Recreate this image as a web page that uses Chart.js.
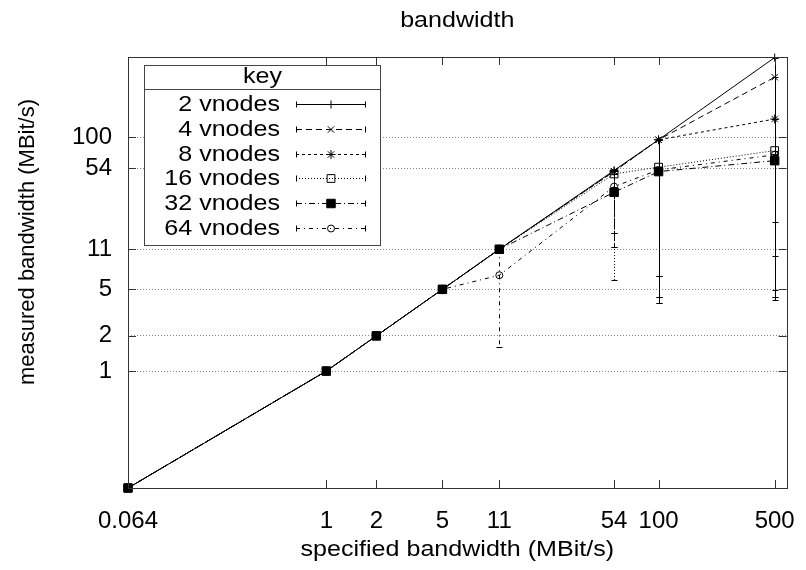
<!DOCTYPE html>
<html>
<head>
<meta charset="utf-8">
<script src="https://cdn.jsdelivr.net/npm/chart.js@4/dist/chart.umd.min.js"></script>
<style>
  html, body { margin: 0; padding: 0; background: #fff; }
</style>
</head>
<body>
<canvas id="chart" width="806" height="570"></canvas>
<script>
const FONT = "'Liberation Sans', Arial, sans-serif";

// specified bandwidth (x) and tick labels
const xValues = [0.064, 1, 2, 5, 11, 54, 100, 500];
const xTickLabels = ["0.064", "1", "2", "5", "11", "54", "100", "500"];
const yTickValues = [1, 2, 5, 11, 54, 100];

const seriesNames = ["2 vnodes", "4 vnodes", "8 vnodes", "16 vnodes", "32 vnodes", "64 vnodes"];

// measured bandwidth per series
const vnodes2  = [0.1, 1, 2, 5, 11, 52, 95, 480];
const vnodes4  = [0.1, 1, 2, 5, 11, 51, 95, 326];
const vnodes8  = [0.1, 1, 2, 5, 11, 51, 95, 143];
const vnodes16 = [0.1, 1, 2, 5, 11, 48.5, 55.4, 76.8];
const vnodes32 = [0.1, 1, 2, 5, 11, 33.8, 50.8, 63];
const vnodes64 = [0.1, 1, 2, 5, 6.6, 37.8, 52.5, 70.6];

// lower ends of the error bars (null = no bar)
const low2  = [null, null, null, null, null, null, 3.8, 4.05];
const low4  = [null, null, null, null, null, 15.1, 6.5, 9.6];
const low8  = [null, null, null, null, null, 11.5, 4.3, 4.9];
const low16 = [null, null, null, null, null, 6.0, 6.5, 4.3];
const low32 = [null, null, null, null, null, 11.5, 3.8, 18.7];
const low64 = [null, null, null, null, 1.6, 15.1, 4.3, 4.3];
// upper ends where they differ from the point
const high64 = [null, null, null, null, 11, null, null, null];

const styles = [
  { dash: [], point: "cross", r: 4, fill: "rgba(0,0,0,0)" },
  { dash: [6, 4], point: "crossRot", r: 4.5, fill: "rgba(0,0,0,0)" },
  { dash: [3, 3], point: "star", r: 4.5, fill: "rgba(0,0,0,0)" },
  { dash: [1, 2], point: "rect", r: 5.5, fill: "rgba(0,0,0,0)" },
  { dash: [6, 3, 1, 3], point: "rect", r: 6, fill: "#000" },
  { dash: [4, 4, 1, 4], point: "circle", r: 3.5, fill: "rgba(0,0,0,0)" },
];

const values = [vnodes2, vnodes4, vnodes8, vnodes16, vnodes32, vnodes64];
const lows = [low2, low4, low8, low16, low32, low64];
const highs = [null, null, null, null, null, high64];

const datasets = seriesNames.map((name, i) => ({
  label: name,
  data: xValues.map((x, j) => ({ x: x, y: values[i][j] })),
  errLow: lows[i],
  errHigh: highs[i],
  borderColor: "#000",
  borderWidth: 1,
  borderDash: styles[i].dash,
  pointStyle: styles[i].point,
  pointRadius: styles[i].r,
  pointBorderColor: "#000",
  pointBackgroundColor: styles[i].fill,
  pointBorderWidth: 1,
  tension: 0,
  fill: false,
  clip: false,
  order: 6 - i,
}));

// text in the original is a bit wider than it is tall
function wideText(ctx, text, x, y, rot) {
  ctx.save();
  ctx.translate(x, y);
  if (rot) ctx.rotate(rot);
  ctx.scale(1.14, 1);
  ctx.fillText(text, 0, 0);
  ctx.restore();
}

const decor = {
  id: "decor",
  afterDatasetsDraw(chart) {
    const ctx = chart.ctx;
    const xs = chart.scales.x, ys = chart.scales.y;
    ctx.save();
    ctx.strokeStyle = "#000";
    ctx.lineWidth = 1;
    chart.data.datasets.forEach((ds) => {
      ds.errLow.forEach((lo, j) => {
        if (lo == null) return;
        const hi = ds.errHigh && ds.errHigh[j] != null ? ds.errHigh[j] : ds.data[j].y;
        const px = Math.round(xs.getPixelForValue(xValues[j])) + 0.5;
        const y1 = ys.getPixelForValue(hi);
        const y2 = ys.getPixelForValue(lo);
        ctx.setLineDash(ds.borderDash);
        ctx.beginPath();
        ctx.moveTo(px, y1);
        ctx.lineTo(px, y2);
        ctx.stroke();
        ctx.setLineDash([]);
        ctx.beginPath();
        ctx.moveTo(px - 3, Math.round(y2) + 0.5);
        ctx.lineTo(px + 3, Math.round(y2) + 0.5);
        ctx.moveTo(px - 3, Math.round(y1) + 0.5);
        ctx.lineTo(px + 3, Math.round(y1) + 0.5);
        ctx.stroke();
      });
    });
    ctx.restore();
  },
  afterDraw(chart) {
    const ctx = chart.ctx;
    const a = chart.chartArea;
    const xs = chart.scales.x, ys = chart.scales.y;
    ctx.save();
    // frame
    ctx.strokeStyle = "#333";
    ctx.lineWidth = 1;
    ctx.setLineDash([]);
    ctx.strokeRect(Math.round(a.left) + 0.5, Math.round(a.top) + 0.5,
      Math.round(a.right - a.left), Math.round(a.bottom - a.top));
    // inward tick marks on all four sides
    ctx.beginPath();
    xValues.forEach((v) => {
      const px = Math.round(xs.getPixelForValue(v)) + 0.5;
      ctx.moveTo(px, a.bottom); ctx.lineTo(px, a.bottom - 8);
      ctx.moveTo(px, a.top); ctx.lineTo(px, a.top + 8);
    });
    yTickValues.forEach((v) => {
      const py = Math.round(ys.getPixelForValue(v)) + 0.5;
      ctx.moveTo(a.left, py); ctx.lineTo(a.left + 8, py);
      ctx.moveTo(a.right, py); ctx.lineTo(a.right - 8, py);
    });
    ctx.stroke();

    // key box
    const kx0 = 144.5, kx1 = 380.5, ky0 = 65.5, ky1 = 245.5, ksep = 89.5;
    ctx.fillStyle = "#fff";
    ctx.fillRect(kx0, ky0, kx1 - kx0, ky1 - ky0);
    ctx.strokeStyle = "#444";
    ctx.strokeRect(kx0, ky0, kx1 - kx0, ky1 - ky0);
    ctx.beginPath();
    ctx.moveTo(kx0, ksep); ctx.lineTo(kx1, ksep);
    ctx.stroke();
    ctx.fillStyle = "#000";
    ctx.font = "22px " + FONT;
    ctx.textBaseline = "middle";
    ctx.textAlign = "center";
    wideText(ctx, "key", (kx0 + kx1) / 2, 77);
    chart.data.datasets.forEach((ds, i) => {
      const y = Math.round(104 + i * 24.8) + 0.5;
      ctx.fillStyle = "#000";
      ctx.textAlign = "right";
      wideText(ctx, ds.label, 280, y);
      ctx.strokeStyle = "#000";
      ctx.setLineDash(ds.borderDash);
      ctx.beginPath();
      ctx.moveTo(296, y); ctx.lineTo(366, y);
      ctx.stroke();
      ctx.setLineDash([]);
      ctx.beginPath();
      ctx.moveTo(296.5, y - 3); ctx.lineTo(296.5, y + 3);
      ctx.moveTo(365.5, y - 3); ctx.lineTo(365.5, y + 3);
      ctx.stroke();
      ctx.fillStyle = ds.pointBackgroundColor;
      Chart.helpers.drawPoint(ctx, {
        pointStyle: ds.pointStyle, radius: ds.pointRadius, rotation: 0, borderWidth: 1,
      }, 331, y);
    });

    // titles
    ctx.fillStyle = "#000";
    ctx.textAlign = "center";
    ctx.textBaseline = "middle";
    wideText(ctx, "bandwidth", (a.left + a.right) / 2, 21);
    wideText(ctx, "specified bandwidth (MBit/s)", (a.left + a.right) / 2, 550);
    ctx.translate(28, 242);
    ctx.rotate(-Math.PI / 2);
    ctx.fillText("measured bandwidth (MBit/s)", 0, 0);
    ctx.restore();
  },
};

new Chart(document.getElementById("chart"), {
  type: "line",
  data: { datasets: datasets },
  options: {
    responsive: false,
    animation: false,
    devicePixelRatio: 1,
    events: [],
    layout: { padding: { top: 57, right: 17, left: 0, bottom: 0 } },
    plugins: { legend: { display: false }, tooltip: { enabled: false } },
    scales: {
      x: {
        type: "logarithmic",
        min: 0.064,
        max: 590,
        afterBuildTicks: (s) => { s.ticks = xValues.map((v) => ({ value: v })); },
        afterFit: (s) => { s.height = 82; },
        grid: { display: false },
        border: { display: false },
        ticks: {
          autoSkip: false,
          maxRotation: 0,
          padding: 11,
          color: "#000",
          font: { family: FONT, size: 24 },
          callback: (v, i) => xTickLabels[i],
        },
      },
      y: {
        type: "logarithmic",
        min: 0.1,
        max: 485,
        afterBuildTicks: (s) => { s.ticks = yTickValues.map((v) => ({ value: v })); },
        afterFit: (s) => { s.width = 128; },
        grid: { color: "#888", lineWidth: 1, drawTicks: false },
        border: { display: false, dash: [1, 2] },
        ticks: {
          padding: 16,
          color: "#000",
          font: { family: FONT, size: 24 },
          callback: (v) => String(v),
        },
      },
    },
  },
  plugins: [decor],
});
</script>
</body>
</html>
